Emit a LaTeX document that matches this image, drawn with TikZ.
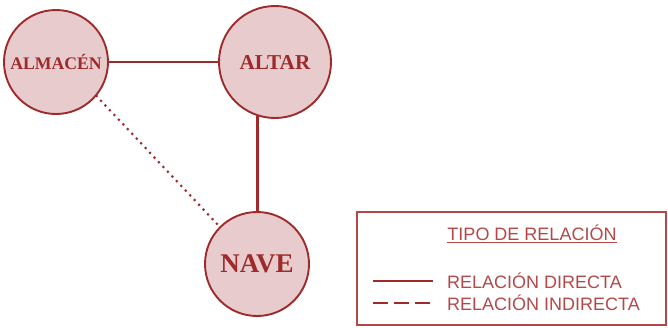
\documentclass[tikz,border=0pt]{standalone}
\usepackage{fontspec}
\setmainfont{Liberation Serif}
\setsansfont{Liberation Sans}
\usetikzlibrary{positioning}
\definecolor{vino}{RGB}{158,42,43}
\definecolor{rosa}{RGB}{232,204,205}
\definecolor{leyenda}{RGB}{180,72,72}

\begin{document}
\begin{tikzpicture}
[x=1pt,y=1pt,
sala/.style={draw=vino,line width=1.9pt,fill=rosa,circle,inner sep=0pt,text=vino},
rel/.style={vino,line width=2.4pt},
ley/.style={text=leyenda,font=\sffamily\fontsize{18}{18}\selectfont,inner sep=0pt}]
\useasboundingbox (0,0) rectangle (668,-327);
\node[sala,minimum size=104pt,font=\bfseries\fontsize{17.7}{18}\selectfont](almacen) at (56,-62){ALMACÉN};
\node[sala,minimum size=112pt,font=\bfseries\fontsize{21.2}{21}\selectfont](altar) at (275,-62){ALTAR};
\node[sala,minimum size=104pt,font=\bfseries\fontsize{27}{27}\selectfont](nave) at (257,-264){NAVE};
\draw[rel] (almacen) -- (altar);
\draw[rel] (altar.-108) -- (altar.-108 |- nave.north);
\draw[rel,line width=3pt,line cap=round,dash pattern=on 0pt off 6.5pt] (almacen.-40) -- (nave.135);
% leyenda
\draw[leyenda,line width=1.5pt] (357,-212) rectangle (666,-325);
\node[ley](titulo) at (532,-234){\underline{TIPO DE RELACIÓN}};
\coordinate (d1) at (373,-281); \coordinate (d2) at (433,-281);
\coordinate (i1) at (373,-303); \coordinate (i2) at (433,-303);
\draw[rel] (d1) -- (d2);
\draw[rel,dash pattern=on 15pt off 6pt] (i1) -- (i2);
\node[ley,anchor=west,right=14pt of d2](directa){RELACIÓN DIRECTA};
\node[ley,anchor=west,right=14pt of i2](indirecta){RELACIÓN INDIRECTA};
\end{tikzpicture}
\end{document}
